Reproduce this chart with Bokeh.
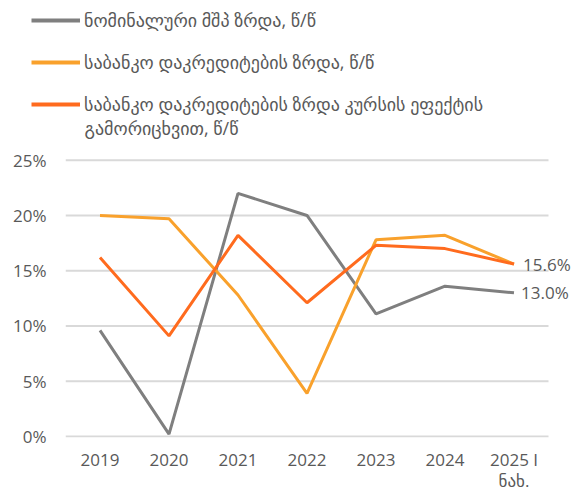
from bokeh.plotting import figure
from bokeh.layouts import column
from bokeh.models import Legend, LegendItem, Label, FixedTicker, Range1d, PrintfTickFormatter
from bokeh.embed import file_html
from bokeh.resources import INLINE

# ---- data ----
categories = ["2019", "2020", "2021", "2022", "2023", "2024", "2025 I\nნახ."]
gdp_growth = [9.6, 0.2, 22.0, 20.0, 11.1, 13.6, 13.0]
credit_growth = [20.0, 19.7, 12.8, 3.9, 17.8, 18.2, 15.6]
credit_growth_fx_adj = [16.2, 9.1, 18.2, 12.1, 17.3, 17.0, 15.6]
y_ticks = [0, 5, 10, 15, 20, 25]

names = [
    "ნომინალური მშპ ზრდა, წ/წ",
    "საბანკო დაკრედიტების ზრდა, წ/წ",
    "საბანკო დაკრედიტების ზრდა კურსის ეფექტის",
]
name3_line2 = "გამორიცხვით, წ/წ"
colors = ["#7F7F7F", "#F9A12C", "#FF6B1E"]
series = [gdp_growth, credit_growth, credit_growth_fx_adj]

FONT = "Open Sans, DejaVu Sans"
TXT = "#595959"
W = 576
H = 495
LH = 140

xs = list(range(len(categories)))

# ---- legend strip (series plotted out of view; only the legend shows) ----
lp = figure(width=W, height=LH, output_backend="svg", toolbar_location=None,
            x_axis_location=None, y_axis_location=None, min_border=0,
            x_range=Range1d(100, 101), y_range=Range1d(100, 101))
lp.frame_align = False
lp.outline_line_color = None
lp.grid.visible = False
lr = [lp.line(xs, s, line_color=c, line_width=4) for s, c in zip(series, colors)]
legend = Legend(items=[LegendItem(label=n, renderers=[r]) for n, r in zip(names, lr)],
                location=(31, LH - 116), orientation="vertical",
                glyph_width=49, glyph_height=24, label_height=24, label_standoff=4,
                spacing=18, padding=0, margin=0,
                border_line_color=None, background_fill_alpha=0,
                label_text_font=FONT, label_text_font_size="18px", label_text_color=TXT)
lp.add_layout(legend, "center")
lp.add_layout(Label(x=84, y=LH - 127, x_units="screen", y_units="screen", text=name3_line2,
                    text_baseline="middle", text_font=FONT, text_font_size="18px",
                    text_color=TXT))

# ---- main chart ----
p = figure(width=W, height=H - LH, output_backend="svg", toolbar_location=None,
           x_range=Range1d(-0.5, -0.5 + (W - 65) / 69), y_range=Range1d(-0.1, 25.7),
           min_border_left=65, min_border_right=0, min_border_top=12, min_border_bottom=50)
p.frame_align = False
p.outline_line_color = None
p.grid.visible = False

# horizontal gridlines spanning the category slots
p.segment(x0=[xs[0] - 0.5] * len(y_ticks), x1=[xs[-1] + 0.5] * len(y_ticks),
          y0=y_ticks, y1=y_ticks, line_color="#D9D9D9", line_width=2)

for s, c in zip(series, colors):
    p.line(xs, s, line_color=c, line_width=3)

p.xaxis.ticker = FixedTicker(ticks=xs)
p.xaxis.major_label_overrides = {i: c for i, c in enumerate(categories)}
p.yaxis.ticker = FixedTicker(ticks=y_ticks)
p.yaxis.formatter = PrintfTickFormatter(format="%d%%")
for ax in (p.xaxis[0], p.yaxis[0]):
    ax.axis_line_color = None
    ax.major_tick_line_color = None
    ax.minor_tick_line_color = None
    ax.major_tick_out = 0
    ax.major_tick_in = 0
    ax.minor_tick_out = 0
    ax.minor_tick_in = 0
    ax.major_label_text_font = FONT
    ax.major_label_text_font_size = "17px"
    ax.major_label_text_color = TXT
p.yaxis.major_label_standoff = 19
p.xaxis.major_label_standoff = 10
p.xaxis.major_label_text_line_height = 0.95

for vals, off in ((credit_growth_fx_adj, 9), (gdp_growth, 7)):
    p.add_layout(Label(x=xs[-1], y=vals[-1], text=f"{vals[-1]:.1f}%", x_offset=off,
                       text_baseline="middle", text_font=FONT, text_font_size="17px",
                       text_color=TXT))

open("out.html", "w").write(file_html(column(lp, p, spacing=0), INLINE))
